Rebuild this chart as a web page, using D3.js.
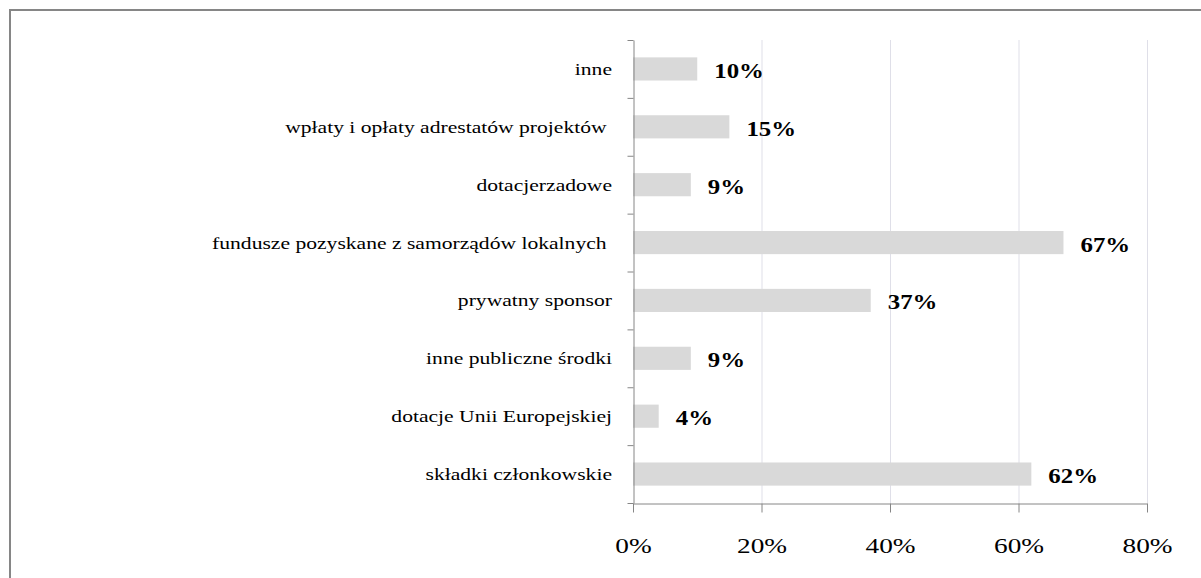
<!DOCTYPE html>
<html>
<head>
<meta charset="utf-8">
<script src="https://cdn.jsdelivr.net/npm/d3@7"></script>
<style>
  html, body { margin: 0; padding: 0; background: #fff; }
  svg { display: block; }
</style>
</head>
<body>
<svg id="chart" width="1201" height="578"></svg>
<script>
const categories = [
  "inne",
  "wpłaty i opłaty adrestatów projektów ",
  "dotacjerzadowe",
  "fundusze pozyskane z samorządów lokalnych ",
  "prywatny sponsor",
  "inne publiczne środki",
  "dotacje Unii Europejskiej",
  "składki członkowskie"
];
const values = [10, 15, 9, 67, 37, 9, 4, 62];
const xTicks = [0, 20, 40, 60, 80];

(function () {
const FONT = "'Times New Roman', 'Liberation Serif', Tinos, 'DejaVu Serif', serif";
const svg = d3.select("#chart");
const W = 1201, H = 578;
const pL = 633, pR = 1147, pT = 40, pB = 503;

// frame (clipped on right/bottom)
svg.append("rect").attr("x", 10).attr("y", 10).attr("width", W + 20).attr("height", H + 20)
  .attr("fill", "#fff").attr("stroke", "#868686").attr("stroke-width", 2);

const x = d3.scaleLinear().domain([0, 80]).range([pL, pR]);
const y = d3.scaleBand().domain(categories).range([pT, pB]).paddingInner(0.6).paddingOuter(0.3);
const yIdx = d3.scaleLinear().domain([0, categories.length]).range([pT, pB]);

// gridlines
svg.append("g").selectAll("line").data(xTicks.filter(d => d > 0)).join("line")
  .attr("x1", d => x(d) + 0.5).attr("x2", d => x(d) + 0.5)
  .attr("y1", pT).attr("y2", pB)
  .attr("stroke", "#dfdfe8").attr("stroke-width", 1);

// bars
svg.append("g").selectAll("rect").data(categories).join("rect")
  .attr("x", x(0)).attr("y", d => y(d))
  .attr("width", (d, i) => x(values[i]) - x(0))
  .attr("height", y.bandwidth())
  .attr("fill", "#d9d9d9");

// y axis with ticks at band boundaries
const yAxis = svg.append("g").attr("transform", `translate(${pL + 0.5},0)`)
  .call(d3.axisLeft(yIdx).tickValues(d3.range(categories.length + 1)).tickFormat("").tickSize(6).tickSizeOuter(0));
yAxis.selectAll("path, line").attr("stroke", "#868686");

// x axis
const xAxis = svg.append("g").attr("transform", `translate(0,${pB + 0.5})`)
  .call(d3.axisBottom(x).tickValues(xTicks).tickFormat(d => d + "%").tickSize(9).tickSizeOuter(0));
xAxis.attr("font-family", FONT).attr("font-size", 21);
xAxis.selectAll("path, line").attr("stroke", "#868686");
xAxis.selectAll("text")
  .attr("y", 0).attr("dy", 0)
  .attr("transform", "translate(0,49) scale(1.3,1)")
  .attr("fill", "#000");

// category labels
svg.append("g").attr("font-family", FONT).selectAll("text").data(categories).join("text")
  .attr("transform", d => `translate(612,${y(d) + y.bandwidth() / 2 + 6}) scale(1.35,1)`)
  .attr("text-anchor", "end")
  .attr("font-size", 16)
  .attr("fill", "#000")
  .style("white-space", "pre")
  .text(d => d);

// value labels
svg.append("g").attr("font-family", FONT).selectAll("text").data(categories).join("text")
  .attr("transform", (d, i) => `translate(${x(values[i]) + 17},${y(d) + y.bandwidth() / 2 + 9}) scale(1.13,1)`)
  .attr("font-size", 22)
  .attr("font-weight", "bold")
  .attr("fill", "#000")
  .text((d, i) => values[i] + "%");
})();
</script>
</body>
</html>
